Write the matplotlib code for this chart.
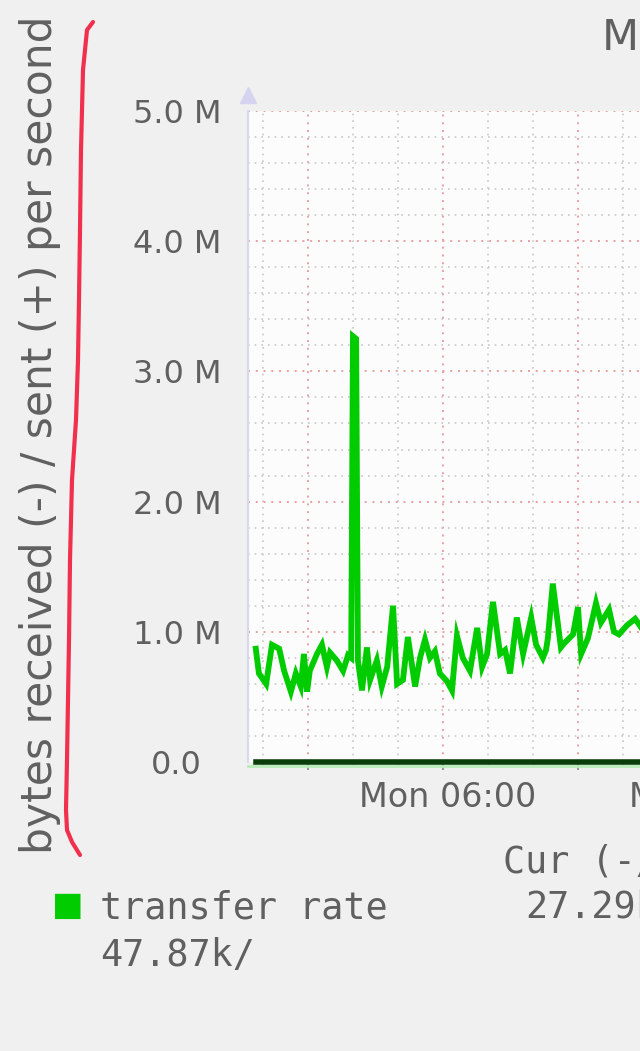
import matplotlib
matplotlib.use("Agg")
import matplotlib.pyplot as plt
from matplotlib.lines import Line2D
from matplotlib.ticker import FixedLocator, MultipleLocator, FuncFormatter

# sample times (hours on Monday) and sent bytes/s in M
hours = [1.84, 1.91, 2.07, 2.20, 2.36, 2.47, 2.62, 2.73, 2.84, 2.91, 2.98, 3.04,
         3.20, 3.31, 3.42, 3.49, 3.64, 3.78, 3.89, 3.96, 4.00, 4.07, 4.11, 4.20,
         4.31, 4.38, 4.53, 4.64, 4.76, 4.89, 4.98, 5.11, 5.22, 5.38, 5.49, 5.60,
         5.71, 5.82, 5.93, 6.09, 6.20, 6.31, 6.44, 6.60, 6.76, 6.87, 6.98, 7.11,
         7.27, 7.38, 7.49, 7.64, 7.78, 7.96, 8.07, 8.22, 8.29, 8.33, 8.44, 8.62,
         8.69, 8.89, 9.00, 9.07, 9.22, 9.40, 9.51, 9.69, 9.80, 9.91, 10.09, 10.27,
         10.47, 10.62, 10.76, 10.89, 11.00]
sent = [0.87, 0.68, 0.60, 0.90, 0.87, 0.70, 0.54, 0.68, 0.58, 0.83, 0.54, 0.70,
        0.83, 0.90, 0.73, 0.84, 0.78, 0.70, 0.82, 0.80, 3.27, 3.25, 0.78, 0.55,
        0.88, 0.63, 0.78, 0.58, 0.73, 1.20, 0.60, 0.63, 0.96, 0.58, 0.80, 0.94,
        0.80, 0.85, 0.68, 0.62, 0.55, 0.97, 0.80, 0.70, 1.03, 0.73, 0.83, 1.23,
        0.83, 0.86, 0.68, 1.11, 0.83, 1.11, 0.90, 0.80, 0.86, 0.95, 1.37, 0.88,
        0.91, 0.98, 1.19, 0.83, 0.95, 1.22, 1.07, 1.17, 1.00, 0.98, 1.05, 1.10,
        1.00, 1.05, 1.10, 1.00, 1.05]
received = [0.0] * len(hours)

y_ticks = [0, 1, 2, 3, 4, 5]
x_label_pos = [6, 12]
x_labels = ["Mon 06:00", "Mon 12:00"]

legend_name = "transfer rate"
cur_value = "27.29k/"
min_value = "47.87k/"

W, H = 640, 1051
fig = plt.figure(figsize=(W / 100, H / 100), dpi=100, facecolor="#f0f0f0")

x0, x1 = 1.667, 11.5
ax = fig.add_axes([248 / W, (H - 762) / H, (x1 - x0) * 45 / W, (762 - 111) / H])
ax.set_facecolor("#fcfcfc")
ax.set_xlim(x0, x1)
ax.set_ylim(0, 5.0)

# grid: minor grey dotted, major red dotted
for h in range(2, 12):
    c, lw = ("#e8a0a0", 1.4) if h % 3 == 0 else ("#c8c8c8", 1.2)
    ax.axvline(h, color=c, lw=lw, ls=(0, (1, 3)), zorder=1)
for k in range(1, 26):
    v = k * 0.2
    major = k % 5 == 0
    ax.axhline(v, color="#e8a0a0" if major else "#c8c8c8", lw=1.4 if major else 1.2,
               ls=(0, (1, 3)), zorder=1)

ax.plot(hours, sent, color="#00cc00", lw=4.2, solid_joinstyle="miter", zorder=3)
ax.plot(hours, received, color="#0b3d0b", lw=4, zorder=4, clip_on=False)
ax.axhline(-0.03, color="#b8ecb8", lw=2, zorder=2, clip_on=False)

for s in ["top", "right", "bottom"]:
    ax.spines[s].set_visible(False)
ax.spines["left"].set_color("#d8d8ee")
ax.spines["left"].set_linewidth(1.5)
ax.plot([x0], [5.12], marker="^", ms=12, color="#d4d4f0", clip_on=False, zorder=5)

ax.yaxis.set_major_locator(FixedLocator(y_ticks))
ax.yaxis.set_major_formatter(FuncFormatter(lambda v, p: "0.0" if v == 0 else "%.1f M" % v))
ax.tick_params(axis="y", length=0, pad=19, labelsize=23, labelcolor="#606060")
ax.get_yticklabels()[0].set_x(-0.045)

ax.xaxis.set_major_locator(MultipleLocator(3))
ax.xaxis.set_minor_locator(MultipleLocator(1))
ax.set_xticklabels([])
ax.tick_params(axis="x", which="major", length=6, width=1.5, color="#999999", pad=0)
ax.tick_params(axis="x", which="minor", length=3, width=1, color="#cccccc")
for p, lab in zip(x_label_pos, x_labels):
    ax.text(p + 0.1, -0.275, lab, ha="center", va="center", fontsize=24, color="#606060",
            clip_on=False)

fig.text(40 / W, 1 - 435 / H, "bytes received (-) / sent (+) per second", rotation=90,
         ha="center", va="center", fontsize=30.5, color="#606060")
fig.text(602 / W, 1 - 38 / H, "MySQL throughput", ha="left", va="center",
         fontsize=31, color="#606060")

mono = "DejaVu Sans Mono"
fig.text(52 / W, 1 - 905 / H, "\u25a0", ha="left", va="center", fontsize=24,
         color="#00cc00")
fig.text(100 / W, 1 - 908 / H, legend_name, ha="left", va="center", fontsize=26.5,
         family=mono, color="#606060")
fig.text(100 / W, 1 - 955 / H, min_value, ha="left", va="center", fontsize=26.5,
         family=mono, color="#606060")
fig.text(503 / W, 1 - 862 / H, "Cur (-/+)", ha="left", va="center", fontsize=26.5,
         family=mono, color="#606060")
fig.text(525 / W, 1 - 908 / H, cur_value, ha="left", va="center", fontsize=26.5,
         family=mono, color="#606060")

# red hand-drawn bracket
bx = [93, 87, 83, 81, 80, 79, 78, 76, 72, 70, 69, 68, 67, 66, 67, 72, 80]
by = [22, 30, 70, 150, 230, 300, 360, 420, 480, 560, 640, 700, 760, 810, 830, 842, 855]
fig.add_artist(Line2D([x / W for x in bx], [1 - y / H for y in by], color="#f0304c",
                      lw=3, transform=fig.transFigure, solid_capstyle="round"))

fig.savefig("out.png", dpi=100, facecolor=fig.get_facecolor())
